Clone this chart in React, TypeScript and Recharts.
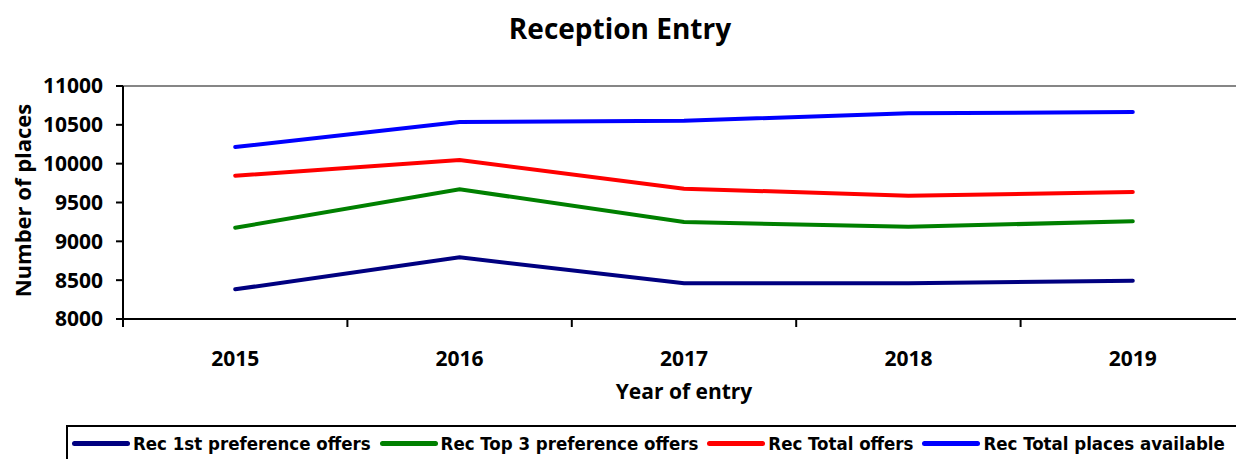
import React from 'react';
import { LineChart, Line, XAxis, YAxis, ReferenceLine } from 'recharts';

const years = ['2015', '2016', '2017', '2018', '2019'];
const firstPref = [8382, 8794, 8460, 8460, 8493];
const top3Pref = [9175, 9670, 9249, 9188, 9258];
const totalOffers = [9845, 10047, 9678, 9588, 9635];
const totalPlaces = [10214, 10536, 10553, 10648, 10665];
const yTicks = [8000, 8500, 9000, 9500, 10000, 10500, 11000];

const series = [
  { key: 'first', name: 'Rec 1st preference offers', color: '#000080', values: firstPref },
  { key: 'top3', name: 'Rec Top 3 preference offers', color: '#008000', values: top3Pref },
  { key: 'total', name: 'Rec Total offers', color: '#ff0000', values: totalOffers },
  { key: 'places', name: 'Rec Total places available', color: '#0000ff', values: totalPlaces },
];

// x positions sit in the middle of each year band, boundaries get tick marks
const chartData = years.map((year, i) => {
  const row: any = { x: i + 0.5, year };
  series.forEach(s => { row[s.key] = s.values[i]; });
  return row;
});
const xTicks = [0, 0.5, 1, 1.5, 2, 2.5, 3, 3.5, 4, 4.5, 5];

const FONT = '"Open Sans", sans-serif';

const XTick = ({ x, y, payload }: any) => {
  const v = payload.value;
  if (Number.isInteger(v)) {
    return <line x1={x} x2={x} y1={y} y2={y + 8} stroke="#000" strokeWidth={2} />;
  }
  return (
    <text x={x} y={y + 39} textAnchor="middle" dominantBaseline="central" fontFamily={FONT} fontWeight={700} fontSize={21} fill="#000">
      {years[Math.floor(v)]}
    </text>
  );
};

const XLabel = ({ viewBox }: any) => (
  <text x={viewBox.x + viewBox.width / 2} y={viewBox.y + 72} textAnchor="middle" dominantBaseline="central"
    fontFamily={FONT} fontWeight={700} fontSize={21} fill="#000">
    Year of entry
  </text>
);

const YLabel = ({ viewBox }: any) => {
  const cx = viewBox.x + 22;
  const cy = viewBox.y + viewBox.height / 2 - 2;
  return (
    <text x={cx} y={cy} transform={`rotate(-90, ${cx}, ${cy})`} textAnchor="middle" dominantBaseline="central"
      fontFamily={FONT} fontWeight={700} fontSize={22} fill="#000">
      Number of places
    </text>
  );
};

export default function App() {
  return (
    <div style={{ position: 'absolute', left: 0, top: 0, width: 1236, height: 459, overflow: 'hidden', background: '#fff' }}>
      <div style={{ position: 'absolute', left: 0, top: 9, width: 1240, textAlign: 'center', fontFamily: FONT, fontWeight: 700, fontSize: 28, color: '#000' }}>
        Reception Entry
      </div>
      <LineChart width={1250} height={459} data={chartData} margin={{ top: 86, right: 5, left: 0, bottom: 80 }}>
        <XAxis
          dataKey="x"
          type="number"
          domain={[0, 5]}
          ticks={xTicks}
          interval={0}
          tickLine={false}
          tickSize={0}
          tickMargin={0}
          height={60}
          axisLine={{ stroke: '#000', strokeWidth: 2 }}
          tick={<XTick />}
          label={<XLabel />}
        />
        <YAxis
          domain={[8000, 11000]}
          ticks={yTicks}
          interval={0}
          width={123}
          tickSize={7}
          tickMargin={13}
          axisLine={{ stroke: '#000', strokeWidth: 2 }}
          tickLine={{ stroke: '#000', strokeWidth: 2 }}
          tick={{ fontFamily: FONT, fontWeight: 700, fontSize: 21, fill: '#000' }}
          label={<YLabel />}
        />
        <ReferenceLine y={11000} stroke="#868686" strokeWidth={2} />
        {series.map(s => (
          <Line
            key={s.key}
            type="linear"
            dataKey={s.key}
            name={s.name}
            stroke={s.color}
            strokeWidth={4}
            strokeLinecap="round"
            dot={false}
            isAnimationActive={false}
          />
        ))}
      </LineChart>
      <div style={{
        position: 'absolute', left: 66, top: 425, width: 1190, height: 40, border: '2px solid #000',
        display: 'flex', alignItems: 'center', fontFamily: '"DejaVu Sans Condensed", "Liberation Sans Narrow", sans-serif',
        fontWeight: 700, fontSize: 18.5, color: '#000', boxSizing: 'border-box', paddingLeft: 4, paddingBottom: 4, whiteSpace: 'nowrap'
      }}>
        {series.map(s => (
          <div key={s.key} style={{ display: 'flex', alignItems: 'center', marginRight: 9 }}>
            <span style={{ display: 'inline-block', width: 58, height: 5, borderRadius: 3, background: s.color, marginRight: 3 }} />
            <span>{s.name}</span>
          </div>
        ))}
      </div>
    </div>
  );
}
